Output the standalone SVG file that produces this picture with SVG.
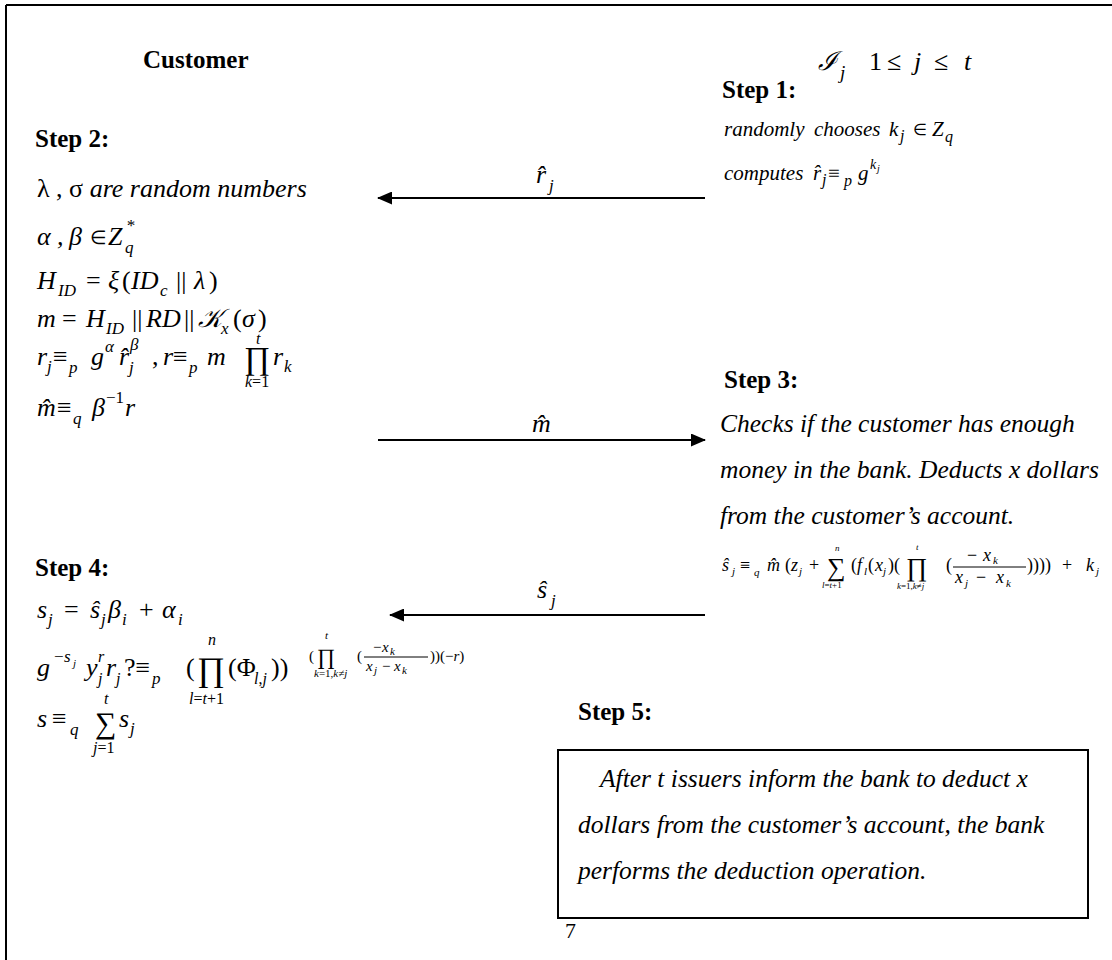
<svg xmlns="http://www.w3.org/2000/svg" width="1112" height="960" viewBox="0 0 1112 960">
<style>
text{font-family:"Liberation Serif","Times New Roman",serif;fill:#000}
.b{font-weight:bold;font-size:25px}
.m{font-style:italic;font-size:26px}
.s{font-style:italic;font-size:17px}
.l{font-style:italic;font-size:16px}
.st{font-style:italic;font-size:21px}
.p{font-style:italic;font-size:25.5px}
.f{font-style:italic;font-size:18px}
.fs{font-style:italic;font-size:11px}
.fl{font-style:italic;font-size:9px}
.e{font-style:italic;font-size:15px}
.el{font-style:italic;font-size:11px}
.u{font-style:normal}
.ln{stroke:#000;stroke-width:2;fill:none}
</style>
<defs>
<marker id="ah" markerWidth="15" markerHeight="13" refX="14" refY="6.5" orient="auto" markerUnits="userSpaceOnUse">
<path d="M0,0 L15,6.5 L0,13 z" fill="#000"/>
</marker>
</defs>
<rect width="1112" height="960" fill="#fff"/>
<path d="M6,5 H1112 M6,5 V960" class="ln"/>

<g id="customer">
<text x="143" y="68" class="b" font-size="28px">Customer</text>
<text x="35" y="147" class="b">Step 2:</text>
<text x="37" y="197" class="m" font-size="26.5px"><tspan class="u">λ , σ</tspan> are random numbers</text>
<text class="m"><tspan x="37" y="245">α</tspan><tspan x="57" y="245">,</tspan><tspan x="69" y="245">β</tspan><tspan x="90" y="244" class="u" font-size="19px">∈</tspan><tspan x="108" y="245">Z</tspan><tspan x="126" y="231" class="s">*</tspan><tspan x="125" y="253" class="s">q</tspan></text>
<text class="m"><tspan x="37" y="289">H</tspan><tspan x="58" y="296" class="s">ID</tspan><tspan x="86" y="289" class="u">=</tspan><tspan x="108" y="289">ξ</tspan><tspan x="122" y="289" class="u">(</tspan><tspan x="131" y="289">ID</tspan><tspan x="160" y="296" class="s">c</tspan><tspan x="176" y="289" class="u">||</tspan><tspan x="194" y="289">λ</tspan><tspan x="209" y="289" class="u">)</tspan></text>
<text class="m"><tspan x="37" y="327">m</tspan><tspan x="62" y="327" class="u">=</tspan><tspan x="86" y="327">H</tspan><tspan x="106" y="334" class="s">ID</tspan><tspan x="132" y="327" class="u">||</tspan><tspan x="146" y="327">RD</tspan><tspan x="184" y="327" class="u">||</tspan><tspan x="198" y="327">𝒦</tspan><tspan x="221" y="334" class="s">x</tspan><tspan x="233" y="327" class="u">(</tspan><tspan x="242" y="327">σ</tspan><tspan x="258" y="327" class="u">)</tspan></text>
<g id="rline">
<text class="m"><tspan x="37" y="365">r</tspan><tspan x="47" y="372" class="s">j</tspan><tspan x="53" y="365" class="u">≡</tspan><tspan x="69" y="373" class="s">p</tspan><tspan x="91" y="365">g</tspan><tspan x="105" y="352" class="s">α</tspan><tspan x="119" y="365">r̂</tspan><tspan x="129" y="373" class="s">j</tspan><tspan x="130" y="350" class="s">β</tspan><tspan x="152" y="365" class="u">,</tspan><tspan x="163" y="365">r</tspan><tspan x="173" y="365" class="u">≡</tspan><tspan x="189" y="373" class="s">p</tspan><tspan x="207" y="365">m</tspan></text>
<text x="244" y="369" class="u" font-size="32px">∏</text>
<text x="256" y="344" class="l" font-size="15px">t</text>
<text x="245" y="387" class="l">k<tspan class="u">=1</tspan></text>
<text class="m"><tspan x="273" y="365">r</tspan><tspan x="284" y="372" class="s">k</tspan></text>
</g>
<text class="m"><tspan x="37" y="416">m̂</tspan><tspan x="57" y="416" class="u">≡</tspan><tspan x="73" y="424" class="s">q</tspan><tspan x="92" y="416">β</tspan><tspan x="106" y="403" class="s u">−1</tspan><tspan x="125" y="416">r</tspan></text>

<text x="35" y="576" class="b">Step 4:</text>
<text class="m"><tspan x="37" y="618">s</tspan><tspan x="48" y="625" class="s">j</tspan><tspan x="64" y="618" class="u">=</tspan><tspan x="90" y="618">ŝ</tspan><tspan x="101" y="625" class="s">j</tspan><tspan x="108" y="618">β</tspan><tspan x="122" y="625" class="s">i</tspan><tspan x="139" y="618" class="u">+</tspan><tspan x="162" y="618">α</tspan><tspan x="178" y="625" class="s">i</tspan></text>
<g id="gline">
<text class="m"><tspan x="37" y="676">g</tspan><tspan x="54" y="662" class="s u">−</tspan><tspan x="64" y="662" class="s">s</tspan><tspan x="73" y="667" class="el">j</tspan><tspan x="86" y="676">y</tspan><tspan x="98" y="662" class="l">r</tspan><tspan x="98" y="684" class="l">j</tspan><tspan x="106" y="676">r</tspan><tspan x="116" y="684" class="l">j</tspan><tspan x="124" y="676" class="u">?≡</tspan><tspan x="152" y="684" class="s">p</tspan><tspan x="186" y="676" class="u">(</tspan></text>
<text x="197" y="681" class="u" font-size="34px">∏</text>
<text x="208" y="645" class="l">n</text>
<text x="189" y="704" class="l">l<tspan class="u">=</tspan>t<tspan class="u">+1</tspan></text>
<text class="m"><tspan x="228" y="676" class="u">(Φ</tspan><tspan x="254" y="684" class="l">l<tspan class="u">,</tspan>j</tspan><tspan x="271" y="676" class="u">))</tspan></text>
<text x="309" y="661" class="e u">(</text>
<text x="317" y="664" class="u" font-size="22px">∏</text>
<text x="325" y="639" class="el">t</text>
<text x="314" y="677" class="el">k<tspan class="u">=1,</tspan>k<tspan class="u">≠</tspan>j</text>
<text x="357" y="661" class="e u">(</text>
<text class="e"><tspan x="373" y="652" class="u">−</tspan><tspan x="382" y="652">x</tspan><tspan x="390" y="655" class="el">k</tspan></text>
<path d="M364,657 H428" stroke="#000" stroke-width="1"/>
<text class="e"><tspan x="366" y="671">x</tspan><tspan x="374" y="674" class="el">j</tspan><tspan x="382" y="671" class="u">−</tspan><tspan x="394" y="671">x</tspan><tspan x="402" y="674" class="el">k</tspan></text>
<text x="430" y="661" class="e" font-size="17px"><tspan class="u">))(−</tspan>r<tspan class="u">)</tspan></text>
</g>
<g id="sline">
<text class="m"><tspan x="37" y="727">s</tspan><tspan x="52" y="727" class="u">≡</tspan><tspan x="70" y="735" class="s">q</tspan></text>
<text x="95" y="733" class="u" font-size="30px">∑</text>
<text x="104" y="704" class="l">t</text>
<text x="93" y="753" class="l">j<tspan class="u">=1</tspan></text>
<text class="m"><tspan x="119" y="727">s</tspan><tspan x="130" y="734" class="s">j</tspan></text>
</g>
</g>

<g id="issuer">
<text class="m" font-size="30px"><tspan x="818" y="70">ℐ</tspan><tspan x="840" y="79" font-size="19px">j</tspan><tspan x="869" y="70" class="u">1</tspan><tspan x="887" y="70" class="u">≤</tspan><tspan x="914" y="70">j</tspan><tspan x="934" y="70" class="u">≤</tspan><tspan x="964" y="70">t</tspan></text>
<text x="722" y="98" class="b">Step 1:</text>
<text class="st"><tspan x="724" y="136">randomly</tspan><tspan x="814" y="136">chooses</tspan><tspan x="889" y="136">k</tspan><tspan x="900" y="141" class="l">j</tspan><tspan x="913" y="135" class="u" font-size="16px">∈</tspan><tspan x="932" y="136">Z</tspan><tspan x="945" y="142" class="l">q</tspan></text>
<text class="st"><tspan x="724" y="180">computes</tspan><tspan x="813" y="180">r̂</tspan><tspan x="822" y="185" class="l">j</tspan><tspan x="828" y="180" class="u">≡</tspan><tspan x="844" y="186" class="l">p</tspan><tspan x="858" y="180">g</tspan><tspan x="870" y="169" font-size="14px">k</tspan><tspan x="877" y="172" font-size="10px">j</tspan></text>
</g>

<g id="bank">
<text x="724" y="388" class="b">Step 3:</text>
<text x="720" y="432" class="p">Checks if the customer has enough</text>
<text x="720" y="478" class="p">money in the bank. Deducts x dollars</text>
<text x="720" y="524" class="p">from the customer’s account.</text>
<g id="sformula">
<text class="f"><tspan x="722" y="571">ŝ</tspan><tspan x="732" y="575" class="fs">j</tspan><tspan x="740" y="571" class="u">≡</tspan><tspan x="754" y="576" class="fs">q</tspan><tspan x="767" y="571">m̂</tspan><tspan x="785" y="571" class="u">(</tspan><tspan x="791" y="571">z</tspan><tspan x="799" y="575" class="fs">j</tspan><tspan x="809" y="571" class="u">+</tspan></text>
<text x="827" y="576" class="u" font-size="26px">∑</text>
<text x="835" y="551" class="fl" font-size="10px">n</text>
<text x="822" y="588" class="fl">l<tspan class="u">=</tspan>t<tspan class="u">+1</tspan></text>
<text class="f"><tspan x="851" y="571" class="u">(</tspan><tspan x="857" y="571">f</tspan><tspan x="864" y="575" class="fs">l</tspan><tspan x="868" y="571" class="u">(</tspan><tspan x="875" y="571">x</tspan><tspan x="883" y="575" class="fs">j</tspan><tspan x="888" y="571" class="u">)(</tspan></text>
<text x="906" y="576" class="u" font-size="26px">∏</text>
<text x="916" y="550" class="fl">t</text>
<text x="897" y="589" class="fl">k<tspan class="u">=1,</tspan>k<tspan class="u">≠</tspan>j</text>
<text x="946" y="571" class="f u">(</text>
<text class="f" font-size="19px"><tspan x="967" y="561" class="u">−</tspan><tspan x="983" y="561">x</tspan><tspan x="993" y="564" class="fs">k</tspan></text>
<path d="M953,567 H1026" stroke="#000" stroke-width="1"/>
<text class="f" font-size="19px"><tspan x="955" y="583">x</tspan><tspan x="965" y="587" class="fs">j</tspan><tspan x="976" y="583" class="u">−</tspan><tspan x="996" y="583">x</tspan><tspan x="1006" y="587" class="fs">k</tspan></text>
<text class="f"><tspan x="1027" y="571" class="u">))))</tspan><tspan x="1062" y="571" class="u">+</tspan><tspan x="1086" y="571">k</tspan><tspan x="1096" y="575" class="fs">j</tspan></text>
</g>
</g>

<g id="step5">
<text x="578" y="720" class="b" font-size="26px">Step 5:</text>
<rect x="558" y="750" width="530" height="168" class="ln"/>
<text x="600" y="787" class="p">After t issuers inform the bank to deduct x</text>
<text x="578" y="833" class="p">dollars from the customer’s account, the bank</text>
<text x="578" y="879" class="p">performs the deduction operation.</text>
</g>
<text x="565" y="938" font-size="22px">7</text>

<g id="connectors">
<line x1="705" y1="198" x2="378" y2="198" class="ln" marker-end="url(#ah)"/>
<text font-style="italic" font-size="26px"><tspan x="536" y="183">r̂</tspan><tspan font-size="17px" x="549" y="191">j</tspan></text>
<line x1="378" y1="440" x2="705" y2="440" class="ln" marker-end="url(#ah)"/>
<text x="532" y="432" font-style="italic" font-size="26px">m̂</text>
<line x1="705" y1="615" x2="390" y2="615" class="ln" marker-end="url(#ah)"/>
<text font-style="italic" font-size="26px"><tspan x="537" y="598">ŝ</tspan><tspan font-size="17px" x="551" y="606">j</tspan></text>
</g>
</svg>
